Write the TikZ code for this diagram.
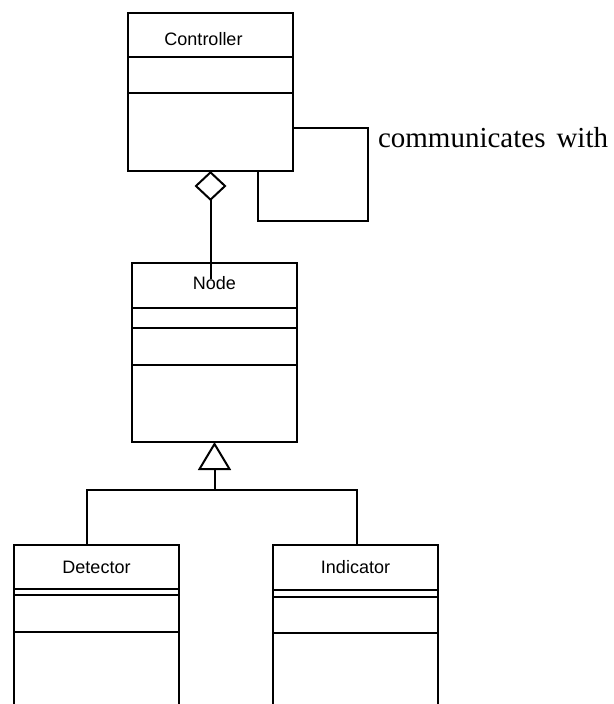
\documentclass[tikz,border=0pt]{standalone}
\usepackage{fontspec}
\setmainfont{Liberation Serif}
\newfontfamily\arialfont{Liberation Sans}
\usetikzlibrary{arrows.meta,positioning}

\tikzset{
  classhead/.style={draw,minimum width=165pt,minimum height=#1,inner sep=0pt,outer sep=0pt,
    font=\arialfont\fontsize{18}{20}\selectfont},
  classpart/.style={draw,minimum width=165pt,minimum height=#1,inner sep=0pt,outer sep=0pt},
}

\begin{document}
\begin{tikzpicture}[x=1pt,y=-1pt,line width=2pt]
\useasboundingbox (0,0) rectangle (613,704);
\clip (0,0) rectangle (613,704);

% classes
\node[classhead=44pt,text height=21pt] (ctrl) at (210.5,34.7) {\hspace*{-14pt}Controller};
\node[classpart=36.3pt,below=0pt of ctrl] (ctrlattr) {};
\node[classpart=78pt,below=0pt of ctrlattr] (ctrlops) {};

\node[classhead=45pt,text depth=6pt] (nodecls) at (214.5,285.5) {Node};
\node[classpart=20pt,below=0pt of nodecls] (nodeattr) {};
\node[classpart=37pt,below=0pt of nodeattr] (nodeassoc) {};
\node[classpart=77pt,below=0pt of nodeassoc] (nodeops) {};

\node[classhead=44pt] (det) at (96.5,567) {Detector};
\node[classpart=6pt,below=0pt of det] (detattr) {};
\node[classpart=37pt,below=0pt of detattr] (detassoc) {};
\node[classpart=100pt,below=0pt of detassoc] (detops) {};

\node[classhead=45pt] (ind) at (355.5,567.5) {Indicator};
\node[classpart=7pt,below=0pt of ind] (indattr) {};
\node[classpart=36pt,below=0pt of indattr] (indassoc) {};
\node[classpart=100pt,below=0pt of indassoc] (indops) {};

% aggregation
\coordinate (aggend) at (210.5,279);
\draw[{Diamond[open,length=30pt,width=32pt]}-] (ctrlops.south) -- (aggend);

% self association
\coordinate (loopcorner) at (368,221);
\draw ([yshift=4pt]ctrlops.east) -| (loopcorner) -| ([xshift=47.5pt]ctrlops.south);
\node[anchor=base west,inner sep=0pt,font=\fontsize{29}{32}\selectfont] (assoclbl) at (377,147)
  {communicates\hspace{11pt}with};

% generalization
\coordinate (genbar) at (214.5,490);
\draw[-{Triangle[open,length=28pt,width=33pt]}] (genbar) -- (nodeops.south);
\draw ([xshift=-9.5pt]det.north) |- (genbar) -| ([xshift=1.5pt]ind.north);
\end{tikzpicture}
\end{document}
